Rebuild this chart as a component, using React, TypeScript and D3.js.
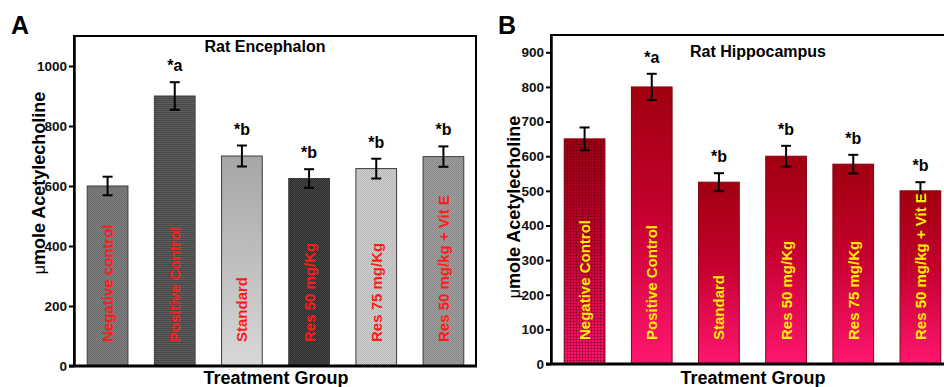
import * as d3 from 'd3';
import React, { useEffect, useRef } from 'react';

// Chart data
const groupsA = ['Negative control', 'Positive Control', 'Standard', 'Res 50 mg/Kg', 'Res 75 mg/Kg', 'Res 50 mg/kg + Vit E'];
const meansA = [600, 900, 700, 625, 658, 698];
const errorsA = [31, 46, 35, 31, 33, 34];
const marksA = ['', '*a', '*b', '*b', '*b', '*b'];
const ticksA = [0, 200, 400, 600, 800, 1000];

const groupsB = ['Negative Control', 'Positive Control', 'Standard', 'Res 50 mg/Kg', 'Res 75 mg/Kg', 'Res 50 mg/kg + Vit E'];
const meansB = [650, 800, 525, 600, 577, 500];
const errorsB = [33, 38, 26, 30, 27, 25];
const marksB = ['', '*a', '*b', '*b', '*b', '*b'];
const ticksB = [0, 100, 200, 300, 400, 500, 600, 700, 800, 900];

const FONT = '"Liberation Sans", Arial, sans-serif';
const W = 944, H = 387;

// fills for panel A (grey textures)
const greyFills = [
  { base: '#7e7e7e', dot: '#6c6c6c', kind: 'check' },
  { base: '#5e5e5e', dot: '#474747', kind: 'hline' },
  { base: 'grad', dot: '', kind: 'grad' },
  { base: '#2e2e2e', dot: '#454545', kind: 'check' },
  { base: '#d2d2d2', dot: '#b5b5b5', kind: 'check' },
  { base: '#9d9d9d', dot: '#8a8a8a', kind: 'check' },
];

function drawPanel(svg, cfg) {
  const { id, groups, means, errors, marks, ticks, yMax, left, right, top, bottom,
    title, titleX, titleY, letter, letterX, labelColor, fills, xTitleX, yLabelX, yLabelY } = cfg;

  const x = d3.scaleBand()
    .domain(groups)
    .range([left, right])
    .paddingInner(0.394)
    .paddingOuter(0.197);

  const y = d3.scaleLinear()
    .domain([0, yMax])
    .range([bottom, top]);

  const g = svg.append('g');
  const cx = d => x(d) + x.bandwidth() / 2;

  // bars
  g.selectAll('rect.bar')
    .data(groups)
    .join('rect')
    .attr('class', 'bar')
    .attr('x', d => x(d))
    .attr('y', (d, i) => y(means[i]))
    .attr('width', x.bandwidth())
    .attr('height', (d, i) => bottom - y(means[i]))
    .attr('fill', (d, i) => fills(i))
    .attr('stroke', id === 'A' ? '#3c3c3c' : '#86000f')
    .attr('stroke-width', 1);

  // grid texture on the first bar of panel B
  if (id === 'B') {
    g.append('rect')
      .attr('x', x(groups[0]))
      .attr('y', y(means[0]))
      .attr('width', x.bandwidth())
      .attr('height', bottom - y(means[0]))
      .attr('fill', 'url(#gridB)');
  }

  // error bars
  const eb = g.selectAll('g.err')
    .data(groups)
    .join('g')
    .attr('class', 'err')
    .attr('stroke', '#000')
    .attr('stroke-width', 2);
  eb.append('line')
    .attr('x1', cx).attr('x2', cx)
    .attr('y1', (d, i) => y(means[i] + errors[i]))
    .attr('y2', (d, i) => y(means[i] - errors[i]));
  eb.append('line')
    .attr('x1', d => cx(d) - 5).attr('x2', d => cx(d) + 5)
    .attr('y1', (d, i) => y(means[i] + errors[i]))
    .attr('y2', (d, i) => y(means[i] + errors[i]));
  eb.append('line')
    .attr('x1', d => cx(d) - 5).attr('x2', d => cx(d) + 5)
    .attr('y1', (d, i) => y(means[i] - errors[i]))
    .attr('y2', (d, i) => y(means[i] - errors[i]));

  // significance marks
  g.selectAll('text.mark')
    .data(groups)
    .join('text')
    .attr('class', 'mark')
    .attr('x', cx)
    .attr('y', (d, i) => y(means[i] + errors[i]) - 11)
    .attr('text-anchor', 'middle')
    .attr('font-family', FONT)
    .attr('font-weight', 'bold')
    .attr('font-size', 16)
    .text((d, i) => marks[i]);

  // group names inside bars
  g.selectAll('text.glabel')
    .data(groups)
    .join('text')
    .attr('class', 'glabel')
    .attr('transform', d => `translate(${cx(d) + 5.5},${bottom - 24}) rotate(-90)`)
    .attr('font-family', FONT)
    .attr('font-weight', 'bold')
    .attr('font-size', 15)
    .attr('fill', labelColor)
    .text(d => d);

  // frame
  g.append('path')
    .attr('d', `M${left},${bottom} V${top} H${right - 1} V${bottom}`)
    .attr('fill', 'none')
    .attr('stroke', '#000')
    .attr('stroke-width', 2);

  // y axis
  const axis = g.append('g')
    .attr('transform', `translate(${left},0)`)
    .call(d3.axisLeft(y).tickValues(ticks).tickFormat(d3.format('d')).tickSize(5).tickPadding(2).tickSizeOuter(0));
  axis.select('.domain').attr('stroke-width', 2.5);
  axis.selectAll('.tick line').attr('stroke-width', 2);
  axis.selectAll('.tick text')
    .attr('font-family', FONT)
    .attr('font-weight', 'bold')
    .attr('font-size', 13.5)
    .attr('fill', '#111');

  // x axis line
  g.append('line')
    .attr('x1', left - 5).attr('x2', right)
    .attr('y1', bottom).attr('y2', bottom)
    .attr('stroke', '#000')
    .attr('stroke-width', 3);

  // panel title
  g.append('text')
    .attr('x', titleX)
    .attr('y', titleY)
    .attr('text-anchor', 'middle')
    .attr('font-family', FONT)
    .attr('font-weight', 'bold')
    .attr('font-size', 16)
    .text(title);

  g.append('text')
    .attr('x', xTitleX)
    .attr('y', 384)
    .attr('text-anchor', 'middle')
    .attr('font-family', FONT)
    .attr('font-weight', 'bold')
    .attr('font-size', 18)
    .text('Treatment Group');

  const yl = g.append('text')
    .attr('transform', `translate(${yLabelX},${yLabelY}) rotate(-90)`)
    .attr('text-anchor', 'middle')
    .attr('font-family', FONT)
    .attr('font-weight', 'bold')
    .attr('font-size', 18);
  yl.append('tspan').attr('font-weight', 'normal').attr('font-size', 16).text('\u03bc');
  yl.append('tspan').text('mole Acetylecholine');

  g.append('text')
    .attr('x', letterX)
    .attr('y', 34)
    .attr('font-family', FONT)
    .attr('font-weight', 'bold')
    .attr('font-size', 25)
    .text(letter);
}

const App = () => {
  const ref = useRef(null);

  useEffect(() => {
    const svg = d3.select(ref.current);
    svg.selectAll('*').remove();
    const defs = svg.append('defs');

    // grey textures
    greyFills.forEach((f, i) => {
      if (f.kind === 'grad') {
        const lg = defs.append('linearGradient')
          .attr('id', `fillA${i}`)
          .attr('x1', 0).attr('y1', 0).attr('x2', 0).attr('y2', 1);
        lg.append('stop').attr('offset', '0%').attr('stop-color', '#a6a6a6');
        lg.append('stop').attr('offset', '100%').attr('stop-color', '#d8d8d8');
        return;
      }
      const p = defs.append('pattern')
        .attr('id', `fillA${i}`)
        .attr('patternUnits', 'userSpaceOnUse')
        .attr('width', 2).attr('height', 2);
      p.append('rect').attr('width', 2).attr('height', 2).attr('fill', f.base);
      if (f.kind === 'hline') {
        p.append('rect').attr('width', 2).attr('height', 1).attr('fill', f.dot);
      } else {
        p.append('rect').attr('width', 1).attr('height', 1).attr('fill', f.dot);
        p.append('rect').attr('x', 1).attr('y', 1).attr('width', 1).attr('height', 1).attr('fill', f.dot);
      }
    });

    // red gradient for panel B
    const rg = defs.append('linearGradient')
      .attr('id', 'redGrad')
      .attr('x1', 0).attr('y1', 0).attr('x2', 0).attr('y2', 1);
    rg.append('stop').attr('offset', '0%').attr('stop-color', '#a0000f');
    rg.append('stop').attr('offset', '45%').attr('stop-color', '#c4002e');
    rg.append('stop').attr('offset', '100%').attr('stop-color', '#ff1670');

    const grid = defs.append('pattern')
      .attr('id', 'gridB')
      .attr('patternUnits', 'userSpaceOnUse')
      .attr('width', 3).attr('height', 3);
    grid.append('rect').attr('width', 3).attr('height', 1).attr('fill', 'rgba(90,0,20,0.35)');
    grid.append('rect').attr('width', 1).attr('height', 3).attr('fill', 'rgba(90,0,20,0.35)');

    drawPanel(svg, {
      id: 'A', groups: groupsA, means: meansA, errors: errorsA, marks: marksA, ticks: ticksA,
      yMax: 1100, left: 74, right: 477, top: 36, bottom: 366,
      title: 'Rat Encephalon', titleX: 265, titleY: 52, letter: 'A', letterX: 11,
      labelColor: '#ff1a1a', fills: i => `url(#fillA${i})`,
      xTitleX: 276, yLabelX: 45, yLabelY: 183,
    });

    drawPanel(svg, {
      id: 'B', groups: groupsB, means: meansB, errors: errorsB, marks: marksB, ticks: ticksB,
      yMax: 950, left: 551, right: 954, top: 35, bottom: 364,
      title: 'Rat Hippocampus', titleX: 758, titleY: 57, letter: 'B', letterX: 498,
      labelColor: '#ffee00', fills: () => 'url(#redGrad)',
      xTitleX: 753, yLabelX: 520, yLabelY: 207,
    });
  }, []);

  return (
    <svg
      ref={ref}
      width={W}
      height={H}
      style={{ position: 'absolute', left: 0, top: 0, background: '#fff', display: 'block' }}
    />
  );
};

export default App;
